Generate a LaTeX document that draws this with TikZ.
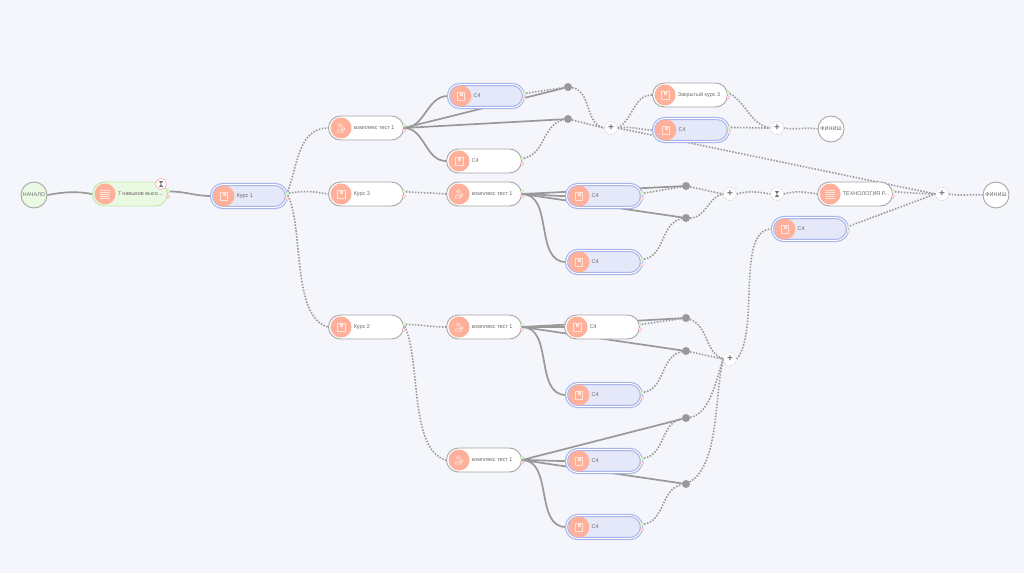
\documentclass[tikz,border=0pt]{standalone}
\usepackage{fontspec}
\setmainfont{Liberation Sans}
\usetikzlibrary{backgrounds}
\definecolor{pagebg}{HTML}{F4F6FB}
\definecolor{linegray}{HTML}{999999}
\definecolor{iconpink}{HTML}{FFB09A}
\definecolor{iconline}{HTML}{FFE3DA}
\definecolor{blueline}{HTML}{AAB6EA}
\definecolor{bluefill}{HTML}{E4E8F9}
\definecolor{greenline}{HTML}{BFE6A8}
\definecolor{greenfill}{HTML}{EAF9E2}
\definecolor{textgray}{HTML}{6A6A6A}
\definecolor{pinkport}{HTML}{F7A9B4}
\tikzstyle{whitebox} = [rectangle, rounded corners=12pt, minimum width=75pt, minimum height=24pt,
    inner sep=0pt, draw=black!35, line width=0.9pt, fill=white]
\tikzstyle{bluebox} = [rectangle, rounded corners=11.5pt, minimum width=75pt, minimum height=23pt,
    inner sep=0pt, draw=blueline, line width=1.2pt, double=white, double distance=0.9pt, fill=bluefill]
\tikzstyle{greenbox} = [rectangle, rounded corners=12pt, minimum width=75pt, minimum height=24pt,
    inner sep=0pt, draw=greenline, line width=0.9pt, fill=greenfill]
\tikzstyle{iconball} = [circle, minimum size=21pt, inner sep=0pt, fill=iconpink]
\tikzstyle{boxtext} = [anchor=west, inner sep=0pt, font=\fontsize{5.5}{6}\selectfont, text=textgray]
\tikzstyle{okport} = [circle, minimum size=3.5pt, inner sep=0pt, fill=greenfill, draw=greenline, line width=0.5pt]
\tikzstyle{badport} = [circle, minimum size=3.5pt, inner sep=0pt, fill=white, draw=pinkport, line width=0.5pt]
\tikzstyle{endpoint} = [circle, minimum size=26pt, inner sep=0pt, draw=black!35, line width=0.9pt, fill=white,
    font=\fontsize{5.5}{6}\selectfont, text=textgray]
\tikzstyle{joint} = [circle, minimum size=13pt, inner sep=0pt, draw=black!40, densely dotted, line width=0.4pt, fill=white,
    font=\fontsize{10}{10}\bfseries\selectfont, text=black!55]
\tikzstyle{dot} = [circle, minimum size=8pt, inner sep=0pt, fill=linegray]
\tikzstyle{solidline} = [line width=1.7pt, draw=linegray]
\tikzstyle{dotline} = [line width=1.6pt, draw=linegray, dash pattern=on 1.5pt off 1.5pt]
\tikzset{
  bookicon/.pic={
    \draw [iconline, line width=0.6pt] (-3.8,-3.8) rectangle (3.8,3.8);
    \fill [iconline] (-1,-3.8) rectangle (2,-0.5);
  },
  listicon/.pic={
    \foreach \ly in {-4,-2,0,2,4}
      \draw [iconline, line width=0.7pt] (-5,\ly) -- (5,\ly);
  },
  testicon/.pic={
    \draw [iconline, line width=0.6pt] (-1,-2.5) circle (1.8);
    \draw [iconline, line width=0.6pt] (-4,4) .. controls (-3.5,0) and (1,0) .. (2,4) -- cycle;
    \draw [iconline, line width=0.6pt] (2.5,1) circle (1.6);
  },
  hourglass/.pic={
    \fill [black!55] (-2,-2.8) -- (2,-2.8) -- (0,0) -- (2,2.8) -- (-2,2.8) -- (0,0) -- cycle;
  }
}
% name, box style, position, icon, text
\newcommand{\stepbox}[5]{
  \node (#1) [#2] at (#3) {};
  \node (#1-icon) [iconball, xshift=13pt] at (#1.west) {};
  \pic at (#1-icon) {#4};
  \node (#1-text) [boxtext, xshift=25.5pt] at (#1.west) {#5};
  \node (#1-ok) [okport, yshift=2.5pt] at (#1.east) {};
  \node (#1-bad) [badport, yshift=-2.5pt] at (#1.east) {};
}

\begin{document}
\begin{tikzpicture}[x=1pt, y=-1pt]
\useasboundingbox (0,0) rectangle (1024,573);

        % Nodes
        \node (start) [endpoint, fill=greenfill, text=black!55] at (34,195) {НАЧАЛО};
        \stepbox{seven}{greenbox}{130,194}{listicon}{7 навыков высо...}
        \node (wait1) [circle, minimum size=11pt, inner sep=0pt, draw=pinkport, line width=0.6pt, fill=white] at (161,184) {};
        \pic at (wait1) {hourglass};
        \stepbox{kurs1}{bluebox}{249,196}{bookicon}{Курс 1}

        \stepbox{test1}{whitebox}{366,128}{testicon}{комплекс тест 1}
        \stepbox{kurs3}{whitebox}{366,194}{bookicon}{Курс 3}
        \stepbox{kurs2}{whitebox}{366,327}{bookicon}{Курс 2}

        \stepbox{cfoura}{bluebox}{486,96}{bookicon}{С4}
        \stepbox{cfourb}{whitebox}{484,161}{bookicon}{С4}
        \stepbox{test2}{whitebox}{484,194}{testicon}{комплекс тест 1}
        \stepbox{test3}{whitebox}{484,327}{testicon}{комплекс тест 1}
        \stepbox{test4}{whitebox}{484,460}{testicon}{комплекс тест 1}

        \stepbox{cfourc}{bluebox}{604,196}{bookicon}{С4}
        \stepbox{cfourd}{bluebox}{604,262}{bookicon}{С4}
        \stepbox{cfoure}{whitebox}{602,327}{bookicon}{С4}
        \stepbox{cfourf}{bluebox}{604,395}{bookicon}{С4}
        \stepbox{cfourg}{bluebox}{604,461}{bookicon}{С4}
        \stepbox{cfourh}{bluebox}{604,527}{bookicon}{С4}

        \stepbox{closed}{whitebox}{690,95}{bookicon}{Закрытый курс 3}
        \stepbox{cfouri}{bluebox}{691,130}{bookicon}{С4}
        \stepbox{tech}{whitebox}{855,194}{listicon}{ТЕХНОЛОГИЯ Р...}
        \stepbox{cfourj}{bluebox}{810,229}{bookicon}{С4}

        \node (finish1) [endpoint] at (831,129) {ФИНИШ};
        \node (finish2) [endpoint] at (996,195) {ФИНИШ};

        \node (plus1) [joint] at (611,128) {+};
        \node (plus2) [joint] at (777,128) {+};
        \node (plus3) [joint] at (730,194) {+};
        \node (plus4) [joint] at (942,194) {+};
        \node (plus5) [joint] at (730,359) {+};
        \node (wait2) [joint] at (777,194) {};
        \pic at (wait2) {hourglass};

        \node (dot1) [dot] at (568,87) {};
        \node (dot2) [dot] at (568,119) {};
        \node (dot3) [dot] at (686,186) {};
        \node (dot4) [dot] at (686,218) {};
        \node (dot5) [dot] at (686,318) {};
        \node (dot6) [dot] at (686,351) {};
        \node (dot7) [dot] at (686,418) {};
        \node (dot8) [dot] at (686,484) {};

        % Arrows
        \begin{pgfonlayer}{background}
        \fill [pagebg] (0,0) rectangle (1024,573);

        \draw [solidline] (start.east) to[out=10, in=170] (seven.west);
        \draw [solidline] (seven-ok) to[out=0, in=180] (kurs1.west);

        \draw [dotline] (kurs1-ok) to[out=70, in=180] (test1.west);
        \draw [dotline] (kurs1-ok) to[out=10, in=170] (kurs3.west);
        \draw [dotline] (kurs1-ok) to[out=-65, in=165, looseness=0.7] (kurs2.west);
        \draw [dotline] (kurs3-ok) to[out=-5, in=175] (test2.west);
        \draw [dotline] (kurs2-ok) to[out=0, in=180] (test3.west);
        \draw [dotline] (kurs2-ok) to[out=-65, in=165, looseness=0.7] (test4.west);

        \draw [solidline] (test1.east) to[out=0, in=180] (cfoura.west);
        \draw [solidline] (test1.east) -- (dot1);
        \draw [solidline] (test1.east) -- (dot2);
        \draw [solidline] (test1.east) to[out=0, in=180] (cfourb.west);

        \draw [solidline] (test2.east) to[out=0, in=180] (cfourc.west);
        \draw [solidline] (test2.east) -- (dot3);
        \draw [solidline] (test2.east) -- (dot4);
        \draw [solidline] (test2.east) to[out=0, in=180] (cfourd.west);

        \draw [solidline] (test3.east) to[out=0, in=180] (cfoure.west);
        \draw [solidline] (test3.east) -- (dot5);
        \draw [solidline] (test3.east) -- (dot6);
        \draw [solidline] (test3.east) to[out=0, in=180] (cfourf.west);

        \draw [solidline] (test4.east) to[out=0, in=180] (cfourg.west);
        \draw [solidline] (test4.east) -- (dot7);
        \draw [solidline] (test4.east) -- (dot8);
        \draw [solidline] (test4.east) to[out=0, in=180] (cfourh.west);

        \draw [dotline] (cfoura-ok) -- (dot1);
        \draw [dotline] (cfourb-ok) to[out=10, in=190] (dot2);
        \draw [dotline] (cfourc-ok) -- (dot3);
        \draw [dotline] (cfourd-ok) to[out=10, in=190] (dot4);
        \draw [dotline] (cfoure-ok) -- (dot5);
        \draw [dotline] (cfourf-ok) to[out=10, in=190] (dot6);
        \draw [dotline] (cfourg-ok) to[out=10, in=190] (dot7);
        \draw [dotline] (cfourh-ok) to[out=10, in=190] (dot8);

        \draw [dotline] (dot1) to[out=-10, in=170] (plus1.west);
        \draw [dotline] (dot2) -- (plus1.west);
        \draw [dotline] (dot3) -- (plus3.west);
        \draw [dotline] (dot4) to[out=0, in=190] (plus3.west);
        \draw [dotline] (dot5) to[out=-20, in=160] (plus5.west);
        \draw [dotline] (dot6) -- (plus5.west);
        \draw [dotline] (dot7) to[out=10, in=-110, looseness=0.8] (plus5.west);
        \draw [dotline] (dot8) to[out=30, in=-105, looseness=0.7] (plus5.west);

        \draw [dotline] (plus1.east) to[out=30, in=180] (closed.west);
        \draw [dotline] (plus1.east) to[out=10, in=180] (cfouri.west);
        \draw [dotline] (plus1.east) -- (plus4.west);
        \draw [dotline] (closed-ok) to[out=-30, in=170] (plus2.west);
        \draw [dotline] (cfouri-ok) to[out=0, in=180] (plus2.west);
        \draw [dotline] (plus2.east) to[out=-10, in=170] (finish1.west);

        \draw [dotline] (plus3.east) to[out=15, in=170] (wait2.west);
        \draw [dotline] (wait2.east) to[out=15, in=170] (tech.west);
        \draw [dotline] (tech-ok) to[out=-5, in=178] (plus4.west);
        \draw [dotline] (cfourj-ok) -- (plus4.west);
        \draw [dotline] (plus4.east) to[out=-10, in=175] (finish2.west);
        \draw [dotline] (plus5.east) to[out=50, in=180, looseness=0.7] (cfourj.west);
        \end{pgfonlayer}

\end{tikzpicture}
\end{document}
